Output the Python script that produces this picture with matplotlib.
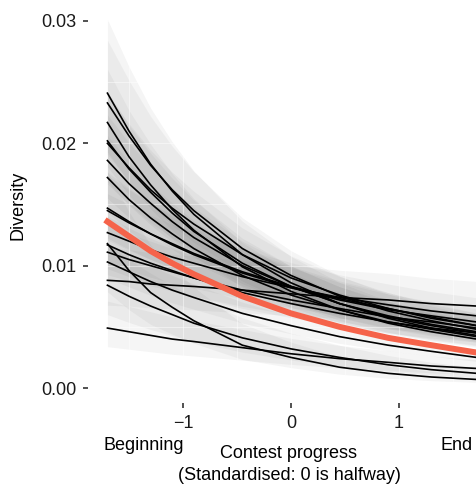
#!/usr/bin/env python
# -*- coding: utf-8 -*-

import matplotlib
matplotlib.use("Agg")
import matplotlib.pyplot as plt
import numpy as np

plt.rcParams.update({
	'font.size': 13,
	'font.family': ['Liberation Sans', 'DejaVu Sans']})

# contest progress (standardised) where each curve was read
progress = [-1.70, -1.50, -1.30, -1.10, -0.90, -0.45, 0.00, 0.45, 0.90, 1.30, 1.72]

# one curve per contest
c01 = [0.0241, 0.0210, 0.0183, 0.0161, 0.0142, 0.0109, 0.0086, 0.0069, 0.0057, 0.0049, 0.0043]
c02 = [0.0233, 0.0206, 0.0182, 0.0162, 0.0145, 0.0114, 0.0092, 0.0075, 0.0063, 0.0055, 0.0048]
c03 = [0.0217, 0.0189, 0.0166, 0.0146, 0.0129, 0.0099, 0.0079, 0.0064, 0.0053, 0.0046, 0.0040]
c04 = [0.0202, 0.0179, 0.0160, 0.0143, 0.0128, 0.0102, 0.0083, 0.0069, 0.0058, 0.0051, 0.0045]
c05 = [0.0200, 0.0180, 0.0162, 0.0147, 0.0134, 0.0109, 0.0090, 0.0076, 0.0065, 0.0057, 0.0051]
c06 = [0.0186, 0.0167, 0.0151, 0.0136, 0.0123, 0.0100, 0.0083, 0.0069, 0.0059, 0.0052, 0.0046]
c07 = [0.0172, 0.0154, 0.0139, 0.0126, 0.0114, 0.0092, 0.0076, 0.0064, 0.0054, 0.0048, 0.0042]
c08 = [0.0147, 0.0136, 0.0126, 0.0117, 0.0109, 0.0094, 0.0082, 0.0072, 0.0064, 0.0059, 0.0054]
c09 = [0.0145, 0.0135, 0.0126, 0.0118, 0.0110, 0.0095, 0.0083, 0.0073, 0.0065, 0.0058, 0.0051]
c10 = [0.0127, 0.0120, 0.0113, 0.0107, 0.0102, 0.0091, 0.0082, 0.0074, 0.0068, 0.0063, 0.0059]
c11 = [0.0118, 0.0096, 0.0078, 0.0066, 0.0055, 0.0035, 0.0025, 0.0017, 0.0012, 0.0009, 0.0007]
c12 = [0.0117, 0.0109, 0.0102, 0.0096, 0.0090, 0.0078, 0.0069, 0.0061, 0.0054, 0.0049, 0.0045]
c13 = [0.0111, 0.0105, 0.0100, 0.0095, 0.0090, 0.0080, 0.0072, 0.0065, 0.0058, 0.0054, 0.0049]
c14 = [0.0103, 0.0095, 0.0087, 0.0080, 0.0074, 0.0061, 0.0051, 0.0042, 0.0035, 0.0030, 0.0025]
c15 = [0.0088, 0.0087, 0.0085, 0.0084, 0.0083, 0.0080, 0.0077, 0.0074, 0.0072, 0.0069, 0.0067]
c16 = [0.0084, 0.0075, 0.0067, 0.0060, 0.0053, 0.0041, 0.0032, 0.0025, 0.0019, 0.0015, 0.0012]
c17 = [0.0049, 0.0046, 0.0043, 0.0040, 0.0038, 0.0033, 0.0028, 0.0024, 0.0021, 0.0018, 0.0016]

# spread of each band (upper = y*f, lower = y/f)
band = [1.25, 1.22, 1.2, 1.2, 1.2, 1.2, 1.2, 1.2, 1.2,
		1.25, 1.5, 1.2, 1.2, 1.15, 1.3, 1.4, 1.45]

# overall trend
overall = [0.0136, 0.0124, 0.0112, 0.0102, 0.0093, 0.0075, 0.0061, 0.0050, 0.0041, 0.0035, 0.0029]

contests = [c01, c02, c03, c04, c05, c06, c07, c08, c09,
			c10, c11, c12, c13, c14, c15, c16, c17]


def main():
	fig = plt.figure(figsize=(4.76, 4.87), dpi=100)
	ax = fig.add_axes([88/476., 1-402.7/487, 407/476., (402.7-2.6)/487])
	ax.set_xlim(-1.88, 1.89)
	ax.set_ylim(-0.0012, 0.0315)

	x = np.array(progress)
	for y, f in zip(contests, band):
		y = np.array(y)
		ax.fill_between(x, y/f, y*f, color="0.35", alpha=0.06, lw=0, zorder=1)

	# faint grid that shows through the bands
	for gx in [-1.5, -1, -0.5, 0, 0.5, 1, 1.5]:
		ax.axvline(gx, color="white", lw=0.8, alpha=0.45, zorder=2)
	for gy in [0.005, 0.01, 0.015, 0.02, 0.025, 0.03]:
		ax.axhline(gy, color="white", lw=0.8, alpha=0.45, zorder=2)

	for y in contests:
		ax.plot(x, y, color="black", lw=1.2, zorder=3, solid_joinstyle="round")
	ax.plot(x, overall, color="#F5634A", lw=4.3, zorder=4, solid_joinstyle="round")

	for s in ax.spines.values():
		s.set_visible(False)
	ax.set_yticks([0, 0.01, 0.02, 0.03])
	ax.set_yticklabels(["0.00", "0.01", "0.02", "0.03"])
	ax.set_xticks([-1, 0, 1])
	ax.set_xticklabels([u"\u22121", "0", "1"])
	ax.tick_params(length=3.5, width=1.1, color="#222222", pad=5, labelcolor="#1a1a1a")

	fig.text(18/476., 1-205/487., "Diversity", rotation=90, ha="center", va="center")
	fig.text(144/476., 1-445/487., "Beginning", ha="center", va="center")
	fig.text(457/476., 1-445/487., "End", ha="center", va="center")
	fig.text(288/476., 1-453/487., "Contest progress", ha="center", va="center")
	fig.text(289/476., 1-475/487., "(Standardised: 0 is halfway)", ha="center", va="center")

	fig.savefig("out.png", dpi=100)


if __name__ == "__main__":
	main()
